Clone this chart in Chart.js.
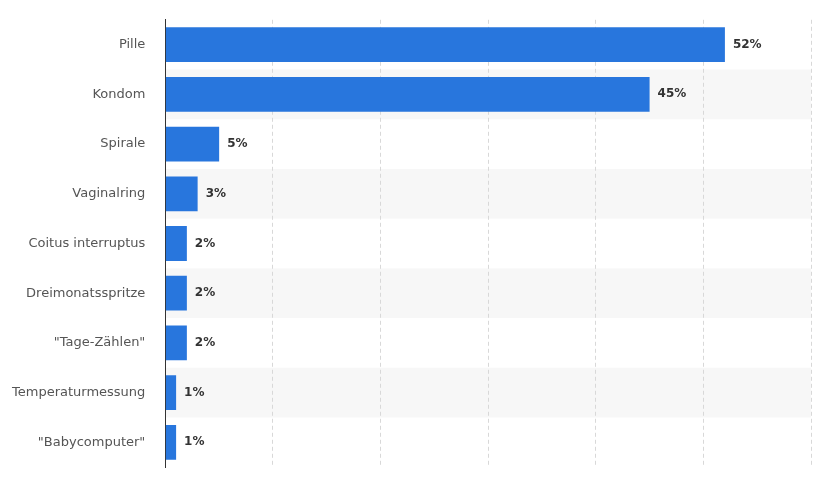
<!DOCTYPE html>
<html>
<head>
<meta charset="utf-8">
<script src="https://cdn.jsdelivr.net/npm/chart.js@4"></script>
<style>
  html, body { margin: 0; padding: 0; background: #fff; }
  #wrap { width: 823px; height: 487px; }
</style>
</head>
<body>
<div id="wrap"><canvas id="c"></canvas></div>
<script>
const categories = ["Pille", "Kondom", "Spirale", "Vaginalring", "Coitus interruptus",
  "Dreimonatsspritze", "\"Tage-Zählen\"", "Temperaturmessung", "\"Babycomputer\""];
const shares = [52, 45, 5, 3, 2, 2, 2, 1, 1];
const xTicks = [0, 10, 20, 30, 40, 50, 60];

// alternating grey rows behind the bars
const stripes = {
  id: "stripes",
  beforeDraw(chart) {
    const { ctx, chartArea, scales } = chart;
    const y = scales.y;
    const step = y.getPixelForValue(1) - y.getPixelForValue(0);
    ctx.save();
    ctx.fillStyle = "#f7f7f7";
    categories.forEach((c, i) => {
      if (i % 2 === 1) {
        const mid = y.getPixelForValue(i);
        ctx.fillRect(chartArea.left, mid - step / 2, chartArea.right - chartArea.left, step);
      }
    });
    ctx.restore();
  }
};

// value labels after each bar
const valueLabels = {
  id: "valueLabels",
  afterDatasetsDraw(chart) {
    const { ctx } = chart;
    const meta = chart.getDatasetMeta(0);
    ctx.save();
    ctx.font = "bold 12px 'DejaVu Sans', sans-serif";
    ctx.fillStyle = "#333";
    ctx.textBaseline = "middle";
    meta.data.forEach((bar, i) => {
      ctx.fillText(shares[i] + "%", bar.x + 8, bar.y);
    });
    ctx.restore();
  }
};

new Chart(document.getElementById("c"), {
  type: "bar",
  data: {
    labels: categories,
    datasets: [{
      data: shares,
      backgroundColor: "#2876dd",
      barPercentage: 0.7,
      categoryPercentage: 1
    }]
  },
  options: {
    indexAxis: "y",
    responsive: true,
    maintainAspectRatio: false,
    animation: false,
    layout: { padding: { top: 10, right: 12, bottom: 0, left: 0 } },
    plugins: { legend: { display: false }, tooltip: { enabled: false } },
    scales: {
      x: {
        min: 0, max: 60,
        afterBuildTicks: axis => { axis.ticks = xTicks.map(v => ({ value: v })); },
        ticks: { display: false },
        border: { display: false, dash: [4, 3] },
        grid: { color: "#d8d8d8", drawTicks: false }
      },
      y: {
        border: { display: true, color: "#333", width: 1 },
        grid: { display: false },
        ticks: {
          color: "#555",
          padding: 12,
          font: { size: 13, family: "'DejaVu Sans', sans-serif" }
        }
      }
    }
  },
  plugins: [stripes, valueLabels]
});
</script>
</body>
</html>
